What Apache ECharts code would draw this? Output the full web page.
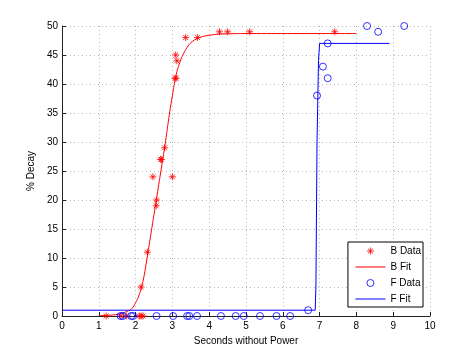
<!DOCTYPE html>
<html>
<head>
<meta charset="utf-8">
<script src="https://cdn.jsdelivr.net/npm/echarts@6/dist/echarts.min.js"></script>
<style>
html,body{margin:0;padding:0;background:#fff;}
#c{width:474px;height:356px;}
</style>
</head>
<body>
<div id="c"></div>
<script>
// B data (red stars): [seconds, % decay]
const bDataX = [1.2, 1.6, 1.75, 2.1, 2.15, 2.2, 2.15, 2.32, 2.47, 2.56, 2.57, 2.68, 2.7, 2.79, 3.0, 3.07, 3.1, 3.09, 3.12, 3.36, 3.68, 4.28, 4.5, 5.1, 7.41];
const bDataY = [0, 0, 0, 0, 0, 0, 5, 11, 24, 19, 20, 27, 27, 29, 24, 41, 41, 45, 44, 48, 48, 49, 49, 49, 49];

// B fit (red curve)
const bFitX = [1.0, 1.4, 1.6, 1.8, 1.9, 2.0, 2.1, 2.2, 2.3, 2.4, 2.5, 2.6, 2.7, 2.8, 2.9, 3.0, 3.1, 3.2, 3.3, 3.4, 3.5, 3.7, 4.0, 4.5, 5.0, 8.0];
const bFitY = [0.05, 0.2, 0.4, 0.9, 1.3, 2.3, 3.7, 6.0, 9.5, 13.5, 17.5, 21.5, 25.5, 29.5, 34, 38, 41.5, 43.7, 45.2, 46.3, 47.1, 47.9, 48.4, 48.65, 48.7, 48.7];

// F data (blue circles)
const fDataX = [1.59, 1.65, 1.88, 1.93, 2.57, 3.02, 3.40, 3.46, 3.67, 4.32, 4.72, 4.94, 5.38, 5.83, 6.2, 6.69, 6.93, 7.09, 7.22, 7.22, 8.29, 8.59, 9.3];
const fDataY = [0, 0, 0, 0, 0, 0, 0, 0, 0, 0, 0, 0, 0, 0, 0, 1, 38, 43, 41, 47, 50, 49, 50];

// F fit (blue step)
const fFitX = [0, 6.88, 6.9, 6.93, 6.97, 7.0, 8.9];
const fFitY = [1, 1, 5, 30, 44, 47, 47];

// Axis ticks
const xTicks = [0, 1, 2, 3, 4, 5, 6, 7, 8, 9, 10];
const yTicks = [0, 5, 10, 15, 20, 25, 30, 35, 40, 45, 50];

const seriesNames = ['B Data', 'B Fit', 'F Data', 'F Fit'];

const zip = (xs, ys) => xs.map((x, i) => [x, ys[i]]);

const starPath = 'path://M5,0L5,10M0,5L10,5M1.5,1.5L8.5,8.5M1.5,8.5L8.5,1.5';
const font = 'Liberation Sans';
const RED = '#ff0000';
const BLUE = '#0000ff';
const clear = 'rgba(0,0,0,0)';

const chart = echarts.init(document.getElementById('c'), null, {renderer: 'canvas'});
chart.setOption({
  animation: false,
  backgroundColor: '#fff',
  textStyle: {fontFamily: font},
  grid: {left: 62, right: 44, top: 26, bottom: 40, containLabel: false},
  xAxis: {
    type: 'value',
    min: xTicks[0], max: xTicks[xTicks.length - 1], interval: 1,
    name: 'Seconds without Power',
    nameLocation: 'middle', nameGap: 15,
    nameTextStyle: {fontFamily: font, fontSize: 10, color: '#000'},
    axisLine: {show: true, onZero: false, lineStyle: {color: '#222', width: 1}},
    axisTick: {show: true, inside: true, length: 4, lineStyle: {color: '#222'}},
    axisLabel: {fontFamily: font, fontSize: 10, color: '#000', margin: 5},
    splitLine: {show: true, lineStyle: {type: [1, 3], color: '#b8b8b8', width: 1}}
  },
  yAxis: {
    type: 'value',
    min: yTicks[0], max: yTicks[yTicks.length - 1], interval: 5,
    name: '% Decay',
    nameLocation: 'middle', nameGap: 19,
    nameTextStyle: {fontFamily: font, fontSize: 10, color: '#000'},
    axisLine: {show: true, onZero: false, lineStyle: {color: '#222', width: 1}},
    axisTick: {show: true, inside: true, length: 4, lineStyle: {color: '#222'}},
    axisLabel: {fontFamily: font, fontSize: 10, color: '#000', margin: 4},
    splitLine: {show: true, lineStyle: {type: [1, 3], color: '#b8b8b8', width: 1}}
  },
  legend: {
    orient: 'vertical',
    right: 51, top: 242,
    backgroundColor: '#fff',
    borderColor: '#000', borderWidth: 1,
    padding: [4, 2, 3, 7],
    itemWidth: 30, itemHeight: 7, itemGap: 6,
    selectedMode: false,
    textStyle: {fontFamily: font, fontSize: 10, color: '#000'},
    data: [
      {name: seriesNames[0], icon: starPath, itemStyle: {color: clear, borderColor: RED, borderWidth: 1}},
      {name: seriesNames[1], lineStyle: {color: RED, width: 1}, itemStyle: {color: clear, borderColor: clear, borderWidth: 0}},
      {name: seriesNames[2], icon: 'circle', itemStyle: {color: clear, borderColor: BLUE, borderWidth: 1}},
      {name: seriesNames[3], lineStyle: {color: BLUE, width: 1}, itemStyle: {color: clear, borderColor: clear, borderWidth: 0}}
    ]
  },
  series: [
    {
      name: seriesNames[0], type: 'scatter',
      data: zip(bDataX, bDataY),
      symbol: starPath, symbolSize: 7,
      itemStyle: {color: clear, borderColor: RED, borderWidth: 1},
      z: 3
    },
    {
      name: seriesNames[1], type: 'line',
      data: zip(bFitX, bFitY),
      symbol: 'none', smooth: true,
      lineStyle: {color: RED, width: 1},
      itemStyle: {color: RED},
      z: 2
    },
    {
      name: seriesNames[2], type: 'scatter',
      data: zip(fDataX, fDataY),
      symbol: 'circle', symbolSize: 7,
      itemStyle: {color: clear, borderColor: BLUE, borderWidth: 1},
      z: 3
    },
    {
      name: seriesNames[3], type: 'line',
      data: zip(fFitX, fFitY),
      symbol: 'none',
      lineStyle: {color: BLUE, width: 1},
      itemStyle: {color: BLUE},
      z: 2
    }
  ]
});
</script>
</body>
</html>
